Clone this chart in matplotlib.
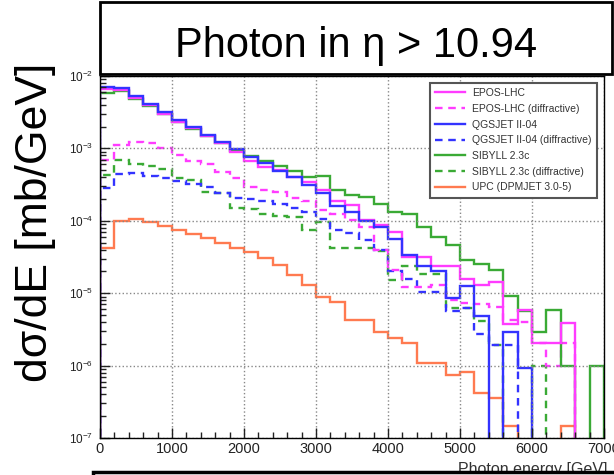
import numpy as np
import matplotlib.pyplot as plt
from matplotlib.patches import Rectangle
from matplotlib.ticker import MultipleLocator, LogLocator, NullFormatter

plt.rcParams['font.family'] = ['Liberation Sans', 'DejaVu Sans']
plt.rcParams['mathtext.fontset'] = 'custom'
plt.rcParams['mathtext.rm'] = 'Liberation Sans'
plt.rcParams['mathtext.it'] = 'Liberation Sans:italic'

nan = np.nan

# 200 GeV bins, 0 - 7000 GeV
bin_edges = np.arange(0, 7001, 200)

# log10(dsigma/dE [mb/GeV]), nan = empty bin
epos = [-2.175, -2.19, -2.30, -2.40, -2.53, -2.635, -2.72, -2.83, -2.925, -3.05,
        -3.18, -3.26, -3.30, -3.39, -3.47, -3.57, -3.72, -3.78, -3.99, -4.06,
        -4.15, -4.50, -4.50, -4.63, -4.63, -4.80, -4.89, -4.85, -5.42, -5.23,
        -5.69, -5.69, -5.41, nan, nan]
epos_diff = [-3.16, -2.95, -2.91, -2.93, -2.99, -3.09, -3.17, -3.21, -3.32, -3.41,
             -3.53, -3.57, -3.60, -3.69, -3.72, -3.85, -3.90, -3.99, -4.08, -4.40,
             -4.68, -4.92, -4.92, -4.89, -5.09, -5.13, -5.15, -5.19, -5.37, -5.40,
             -5.69, -6.00, -5.69, nan, nan]
qgs = [-2.152, -2.166, -2.281, -2.387, -2.497, -2.612, -2.704, -2.81, -2.912, -3.013,
       -3.119, -3.206, -3.312, -3.39, -3.51, -3.61, -3.79, -3.88, -4.00, -4.09,
       -4.25, -4.47, -4.62, -4.70, -5.06, -4.90, -5.31, nan, -5.53, -6.04,
       nan, nan, nan, nan, nan]
qgs_diff = [-3.55, -3.36, -3.34, -3.38, -3.41, -3.45, -3.49, -3.54, -3.61, -3.68,
            -3.70, -3.73, -3.77, -3.83, -3.88, -3.98, -4.13, -4.17, -4.27, -4.40,
            -4.70, -4.80, -4.99, -4.99, -5.24, -5.21, -5.57, -5.72, -5.72, nan,
            nan, nan, nan, nan, nan]
sib = [-2.23, -2.207, -2.32, -2.419, -2.53, -2.635, -2.737, -2.833, -2.925, -3.036,
       -3.10, -3.17, -3.24, -3.31, -3.39, -3.38, -3.575, -3.644, -3.667, -3.77,
       -3.88, -3.91, -4.08, -4.22, -4.33, -4.54, -4.59, -4.68, -5.04, -5.25,
       -5.53, -5.23, -6.00, nan, -6.00]
sib_diff = [-3.37, -3.16, -3.21, -3.24, -3.28, -3.41, -3.44, -3.60, -3.62, -3.83,
            -3.84, -3.90, -3.93, -3.95, -4.13, -4.01, -4.38, -4.38, -4.38, -4.42,
            -4.82, -4.62, -4.73, -4.73, -5.21, -5.21, -5.39, -5.72, nan, nan,
            -6.00, nan, nan, nan, nan]
upc = [-4.38, -4.00, -3.975, -4.02, -4.07, -4.13, -4.18, -4.24, -4.31, -4.38,
       -4.43, -4.51, -4.61, -4.75, -4.89, -5.05, -5.12, -5.37, -5.37, -5.54,
       -5.62, -5.69, -5.97, -5.97, -6.13, -6.09, -6.38, -6.45, -6.83, nan,
       nan, nan, -6.83, nan, nan]

labels = ['EPOS-LHC', 'EPOS-LHC (diffractive)', 'QGSJET II-04', 'QGSJET II-04 (diffractive)',
          'SIBYLL 2.3c', 'SIBYLL 2.3c (diffractive)', 'UPC (DPMJET 3.0-5)']

c_epos = '#ff3cff'
c_qgs = '#3333ff'
c_sib = '#3aaa35'
c_upc = '#ff7a50'

fig = plt.figure(figsize=(6.14, 4.75), dpi=100)
ax = fig.add_axes([100/614, 1 - 438/475, 504/614, 362/475])

def to_val(lg):
    lg = np.array(lg, dtype=float)
    # empty bins drop to the bottom of the frame like ROOT does
    return np.where(np.isnan(lg), 1e-12, 10.0**lg)

dash = (3.2, 2.4)
series = [
    (upc, c_upc, None, labels[6]),
    (sib_diff, c_sib, dash, labels[5]),
    (qgs_diff, c_qgs, dash, labels[3]),
    (epos_diff, c_epos, dash, labels[1]),
    (sib, c_sib, None, labels[4]),
    (epos, c_epos, None, labels[0]),
    (qgs, c_qgs, None, labels[2]),
]
handles = {}
for vals, col, ls, lab in series:
    h = ax.stairs(to_val(vals), bin_edges, baseline=1e-12, color=col, lw=1.7)
    if ls is not None:
        h.set_linestyle((0, ls))
    handles[lab] = plt.Line2D([], [], color=col, lw=1.7,
                              linestyle=(0, ls) if ls else '-')

ax.set_yscale('log')
ax.set_xlim(0, 7000)
ax.set_ylim(1e-7, 1e-2)

ax.xaxis.set_major_locator(MultipleLocator(1000))
ax.xaxis.set_minor_locator(MultipleLocator(200))
ax.yaxis.set_major_locator(LogLocator(base=10, numticks=10))
ax.yaxis.set_minor_locator(LogLocator(base=10, subs=np.arange(2, 10), numticks=20))
ax.yaxis.set_minor_formatter(NullFormatter())
ax.tick_params(which='both', direction='in', top=False, right=False, colors='#222')
ax.tick_params(which='major', length=7, width=1)
ax.tick_params(which='minor', length=4, width=1)
ax.tick_params(axis='x', labelsize=10.5, pad=3)
ax.tick_params(axis='y', labelsize=8.5, pad=5)
ax.grid(True, which='major', color='#888888', linestyle=':', lw=1.0)
for s in ax.spines.values():
    s.set_linewidth(1.0)

ax.legend([handles[l] for l in labels], labels, loc='upper right',
          bbox_to_anchor=(0.986, 0.981), borderaxespad=0, fontsize=7.5,
          labelspacing=0.55, handlelength=2.9, handletextpad=0.65, borderpad=0.5,
          fancybox=False, framealpha=1, edgecolor='#555555', labelcolor='#333333')
ax.get_legend().get_frame().set_linewidth(1.5)

# x axis title, partly hidden below the lower box
fig.text(607/614, 1 - 474/475, 'Photon energy [GeV]', ha='right', va='baseline',
         fontsize=11.5, color='#333333')

# title box
fig.add_artist(Rectangle((100/614, 1 - 74/475), 512/614, 72/475, transform=fig.transFigure,
                         facecolor='white', edgecolor='black', lw=2.0, zorder=5))
fig.text(356/614, 1 - 57/475, 'Photon in η > 10.94', ha='center', va='baseline',
         fontsize=30, color='black', zorder=6)

# lower box covering the bottom of the figure
fig.add_artist(Rectangle((93/614, -0.1), 0.99, 0.1 + 3/475, transform=fig.transFigure,
                         facecolor='white', edgecolor='black', lw=2.5, zorder=7))

fig.text(36/614, 1 - 222/475, 'dσ/dE [mb/GeV]', rotation=90, ha='center', va='center',
         fontsize=32, color='black')

fig.savefig('out.png', dpi=100)
